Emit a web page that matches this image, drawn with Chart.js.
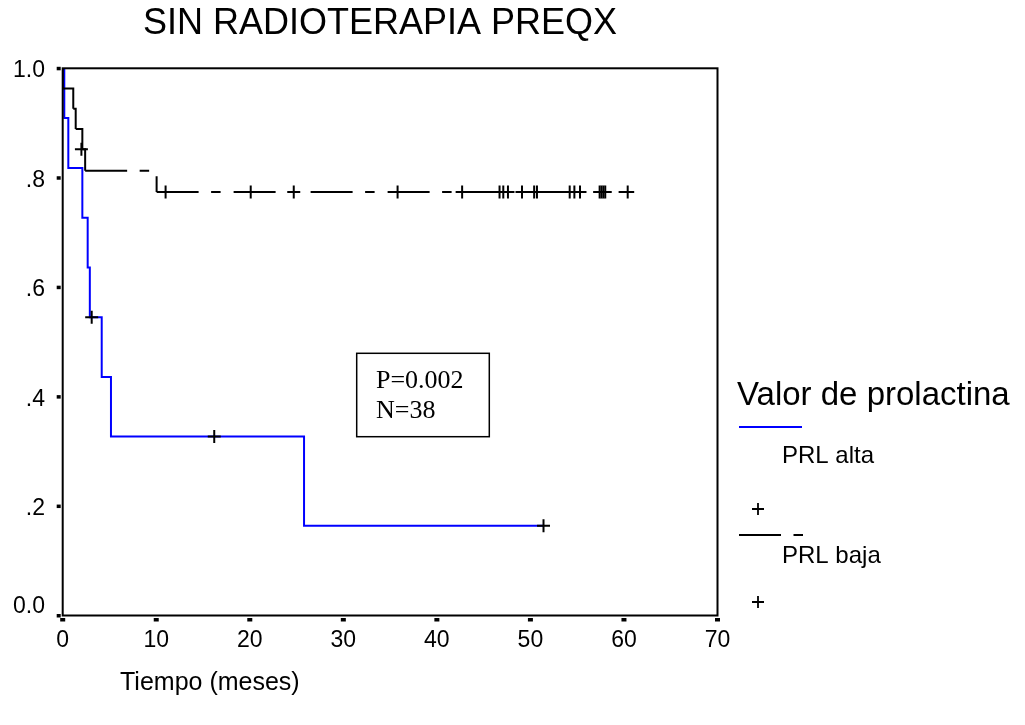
<!DOCTYPE html>
<html>
<head>
<meta charset="utf-8">
<script src="https://cdn.jsdelivr.net/npm/chart.js@4"></script>
<style>
  html, body { margin: 0; padding: 0; background: #fff; }
  canvas { display: block; }
</style>
</head>
<body>
<canvas id="grafico" width="1025" height="725"></canvas>
<script>
// Textos
const titulo = "SIN RADIOTERAPIA PREQX";
const tituloEjeX = "Tiempo (meses)";
const tituloLeyenda = "Valor de prolactina";
const nombresSeries = ["PRL alta", "PRL baja"];
const textoCuadro = ["P=0.002", "N=38"];

// Ejes
const ticksX = [0, 10, 20, 30, 40, 50, 60, 70];
const ticksY = [0, 0.2, 0.4, 0.6, 0.8, 1.0];
const etiquetasY = ["0.0", ".2", ".4", ".6", ".8", "1.0"];

// PRL alta (curva de Kaplan-Meier)
const altaTiempos = [0, 0.17, 0.6, 2.1, 2.67, 2.9, 4.17, 5.16, 25.8, 51.4];
const altaSupervivencia = [1, 0.909, 0.818, 0.727, 0.636, 0.545, 0.436, 0.327, 0.164, 0.164];
const altaCensuraTiempos = [3.1, 16.2, 51.4];
const altaCensuraValores = [0.545, 0.327, 0.164];

// PRL baja
const bajaTiempos = [0, 0, 1.13, 1.39, 2.1, 2.4, 10.04, 60.4];
const bajaSupervivencia = [1, 0.963, 0.926, 0.889, 0.852, 0.813, 0.774, 0.774];
const bajaCensuraTiempos = [2.0, 11.0, 20.1, 24.7, 35.8, 42.7, 46.7, 47.1, 47.6, 49.1, 50.4, 50.7, 54.2, 54.7, 55.3, 57.4, 57.6, 57.8, 58.0, 60.4];
const bajaCensuraValores = [0.852, 0.774, 0.774, 0.774, 0.774, 0.774, 0.774, 0.774, 0.774, 0.774, 0.774, 0.774, 0.774, 0.774, 0.774, 0.774, 0.774, 0.774, 0.774, 0.774];

const patronBaja = [42, 12.5, 9.5, 13];

function puntos(xs, ys) {
  return xs.map((x, i) => ({ x: x, y: ys[i] }));
}

function cruz(ctx, x, y, r) {
  ctx.beginPath();
  ctx.moveTo(x - r, y);
  ctx.lineTo(x + r, y);
  ctx.moveTo(x, y - r);
  ctx.lineTo(x, y + r);
  ctx.stroke();
}

// Marco, ticks, títulos, leyenda y cuadro de texto
const textos = {
  id: "textos",
  afterDraw(chart) {
    const ctx = chart.ctx;
    const area = chart.chartArea;
    const sx = chart.scales.x;
    const sy = chart.scales.y;
    ctx.save();
    ctx.fillStyle = "#000";
    ctx.strokeStyle = "#000";

    // marco
    ctx.lineWidth = 2;
    ctx.strokeRect(area.left, area.top, area.right - area.left, area.bottom - area.top);

    // marcas y etiquetas de los ejes
    ctx.font = "23px 'Liberation Sans', Arial, sans-serif";
    ctx.textBaseline = "alphabetic";
    ctx.textAlign = "center";
    ticksX.forEach(v => {
      const px = sx.getPixelForValue(v);
      ctx.fillRect(px - 2.5, area.bottom + 2.5, 5, 3.5);
      ctx.fillText(String(v), px, 647);
    });
    ctx.textAlign = "right";
    ticksY.forEach((v, i) => {
      const py = sy.getPixelForValue(v);
      ctx.fillRect(area.left - 6, py - 1.5, 4, 3.5);
      const base = i === 0 ? py - 2.5 : py + 9;
      ctx.fillText(etiquetasY[i], 45, base);
    });

    // título
    ctx.textAlign = "center";
    ctx.font = "36px 'Liberation Sans', Arial, sans-serif";
    ctx.fillText(titulo, 380, 33.5);

    // título del eje x
    ctx.textAlign = "left";
    ctx.font = "25px 'Liberation Sans', Arial, sans-serif";
    ctx.fillText(tituloEjeX, 120, 690);

    // leyenda
    ctx.font = "33px 'Liberation Sans', Arial, sans-serif";
    ctx.fillText(tituloLeyenda, 737, 405);
    ctx.font = "24px 'Liberation Sans', Arial, sans-serif";
    ctx.fillText(nombresSeries[0], 782, 463);
    ctx.fillText(nombresSeries[1], 782, 563);

    ctx.lineWidth = 2;
    ctx.strokeStyle = "#0000ff";
    ctx.beginPath();
    ctx.moveTo(739, 427);
    ctx.lineTo(802, 427);
    ctx.stroke();

    ctx.strokeStyle = "#000";
    ctx.setLineDash(patronBaja);
    ctx.beginPath();
    ctx.moveTo(739, 535);
    ctx.lineTo(803, 535);
    ctx.stroke();
    ctx.setLineDash([]);

    ctx.lineWidth = 1.8;
    cruz(ctx, 758, 509, 6);
    cruz(ctx, 758, 602, 6);

    // cuadro con P y N
    ctx.lineWidth = 1.5;
    ctx.strokeRect(356.7, 353.3, 132.6, 83.4);
    ctx.font = "26px 'Liberation Serif', 'Times New Roman', serif";
    ctx.fillText(textoCuadro[0], 376, 388);
    ctx.fillText(textoCuadro[1], 376, 418);

    ctx.restore();
  }
};

const ctx = document.getElementById("grafico").getContext("2d");
new Chart(ctx, {
  type: "line",
  data: {
    datasets: [
      {
        label: nombresSeries[0] + " censurado",
        data: puntos(altaCensuraTiempos, altaCensuraValores),
        showLine: false,
        pointStyle: "cross",
        pointRadius: 6.5,
        pointBorderWidth: 2,
        pointBorderColor: "#000",
        order: 0
      },
      {
        label: nombresSeries[1] + " censurado",
        data: puntos(bajaCensuraTiempos, bajaCensuraValores),
        showLine: false,
        pointStyle: "cross",
        pointRadius: 6.5,
        pointBorderWidth: 2,
        pointBorderColor: "#000",
        order: 0
      },
      {
        label: nombresSeries[1],
        data: puntos(bajaTiempos, bajaSupervivencia),
        stepped: "before",
        borderColor: "#000",
        borderWidth: 2,
        borderDash: patronBaja,
        pointRadius: 0,
        fill: false,
        // cada tramo empieza el patrón de guiones de nuevo
        segment: {
          borderDashOffset: c => c.p0DataIndex * 0.001
        },
        order: 1
      },
      {
        label: nombresSeries[0],
        data: puntos(altaTiempos, altaSupervivencia),
        stepped: "before",
        borderColor: "#0000ff",
        borderWidth: 2,
        pointRadius: 0,
        fill: false,
        order: 2
      }
    ]
  },
  options: {
    responsive: false,
    animation: false,
    layout: {
      padding: { left: 62.7, top: 68.3, right: 307.5, bottom: 109.5 }
    },
    plugins: {
      legend: { display: false },
      tooltip: { enabled: false },
      title: { display: false }
    },
    scales: {
      x: { type: "linear", min: 0, max: 70, display: false },
      y: { type: "linear", min: 0, max: 1, display: false }
    }
  },
  plugins: [textos]
});
</script>
</body>
</html>
